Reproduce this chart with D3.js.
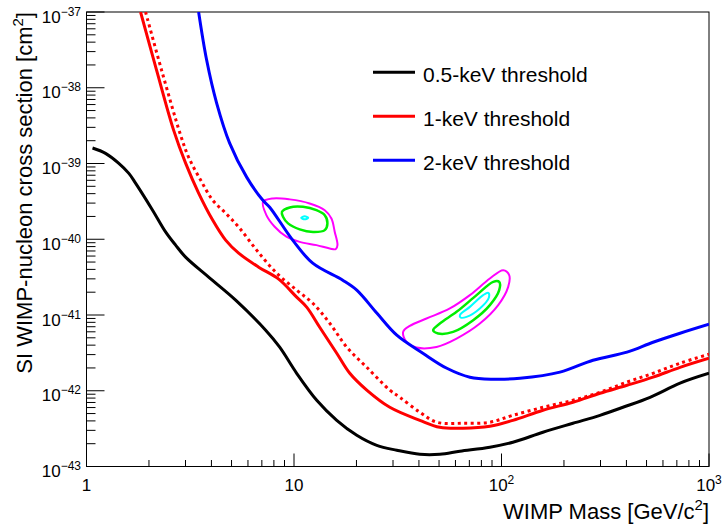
<!DOCTYPE html>
<html><head><meta charset="utf-8">
<script src="https://cdn.jsdelivr.net/npm/d3@7"></script>
<style>body{margin:0;background:#fff}svg{display:block;font-family:"Liberation Sans",Arial,sans-serif}</style>
</head><body>
<svg id="c" width="722" height="524"></svg>
<script>
// ---- data ----
const massTicks = [1, 10, 100, 1000];
const massTickExp = ["", "", "2", "3"];
const sigmaTicks = [1e-43, 1e-42, 1e-41, 1e-40, 1e-39, 1e-38, 1e-37];
const sigmaTickExp = ["43", "42", "41", "40", "39", "38", "37"];

const thr05 = [[1.069,1.60e-39],[1.235,1.36e-39],[1.427,1.01e-39],[1.600,7.40e-40],[1.723,5.51e-40],[2.082,2.42e-40],[2.405,1.25e-40],[2.688,8.36e-41],[3.003,5.80e-41],[3.878,3.16e-41],[5.234,1.57e-41],[7.303,6.3e-42],[8.532,3.76e-42],[10.30,1.70e-42],[12.87,7.48e-43],[16.07,4.07e-43],[20.07,2.58e-43],[25.06,1.90e-43],[31.29,1.64e-43],[40.41,1.45e-43],[50.44,1.45e-43],[63.02,1.59e-43],[87.90,1.80e-43],[113.5,2.09e-43],[158.4,2.83e-43],[221.0,3.72e-43],[298.3,4.74e-43],[385.1,6.05e-43],[520.0,8.2e-43],[725.3,1.26e-42],[1000,1.70e-42]];
const thr1 = [[1.822,1e-37],[2.176,1.71e-38],[2.629,2.76e-39],[3.003,1.01e-39],[3.470,4.06e-40],[4.054,1.79e-40],[4.683,9.73e-41],[5.411,6.55e-41],[6.756,4.28e-41],[8.438,2.97e-41],[10.30,1.72e-41],[11.51,1.27e-41],[13.30,6.90e-42],[16.07,3.13e-42],[18.57,1.70e-42],[22.42,1.02e-42],[28.95,6.05e-43],[40.41,4.07e-43],[50.44,3.29e-43],[65.14,3.20e-43],[87.90,3.40e-43],[113.5,4.07e-43],[158.4,5.53e-43],[221.0,7.05e-43],[298.3,9.27e-43],[402.6,1.18e-42],[537.6,1.51e-42],[725.3,2.04e-42],[1000,2.69e-42]];
const thr1dot = [[1.926,1e-37],[2.300,1.71e-38],[2.841,2.37e-39],[3.105,1.21e-39],[3.548,6.04e-40],[4.054,3.29e-40],[4.683,2.21e-40],[5.411,1.45e-40],[6.608,7.18e-41],[8.253,3.56e-41],[10.30,2.13e-41],[12.31,1.43e-41],[14.87,7.79e-42],[17.96,3.76e-42],[22.42,2.04e-42],[28.95,1.02e-42],[32.35,8.2e-43],[40.41,5.20e-43],[48.80,3.84e-43],[65.14,3.72e-43],[87.90,3.84e-43],[113.5,4.74e-43],[158.4,6.05e-43],[221.0,7.48e-43],[298.3,9.55e-43],[402.6,1.30e-42],[537.6,1.70e-42],[725.3,2.31e-42],[1000,3.03e-42]];
const thr2 = [[3.470,1e-37],[3.793,2.32e-38],[4.238,6.28e-39],[4.896,1.86e-39],[5.913,6.61e-40],[7.063,3.29e-40],[7.634,2.65e-40],[9.856,9.73e-41],[12.31,4.83e-41],[17.18,2.88e-41],[20.07,2.13e-41],[25.06,1.06e-41],[31.29,5.41e-42],[41.78,3.13e-42],[54.53,1.98e-42],[70.41,1.51e-42],[90.88,1.42e-42],[122.7,1.46e-42],[191.3,1.76e-42],[276.0,2.53e-42],[402.6,3.23e-42],[537.6,4.37e-42],[725.3,5.75e-42],[1000,7.56e-42]];

const magentaLow = [[7.09,3.12e-40],[7.92,3.46e-40],[9.54,3.36e-40],[11.9,2.97e-40],[14.07,2.42e-40],[15.15,1.88e-40],[15.72,1.25e-40],[16.2,8.36e-41],[15.89,7.40e-41],[14.87,7.56e-41],[12.83,8.36e-41],[10.65,9.24e-41],[9.19,1.08e-40],[8.07,1.46e-40],[7.36,2.08e-40]];
const greenLow = [[8.75,2.30e-40],[9.54,2.63e-40],[11.05,2.68e-40],[12.83,2.42e-40],[14.07,2.08e-40],[14.49,1.62e-40],[14.07,1.32e-40],[12.35,1.25e-40],[10.65,1.35e-40],[9.36,1.62e-40],[8.85,1.98e-40]];
const cyanLow = [[10.83,1.92e-40],[11.26,2.01e-40],[11.71,1.92e-40],[11.26,1.83e-40]];
const magentaHigh = [[33.56,5.98e-42],[36.15,7.18e-42],[43.52,8.99e-42],[56.38,1.22e-41],[70.41,1.83e-41],[87.9,3.03e-41],[101.9,3.91e-41],[108.9,3.36e-41],[107.7,2.35e-41],[96.4,1.35e-41],[78.66,7.72e-42],[60.74,4.89e-42],[48.63,3.79e-42],[38.94,3.72e-42],[34.85,4.41e-42]];
const greenHigh = [[46.83,6.3e-42],[50.44,7.72e-42],[60.74,1.10e-41],[75.84,1.83e-41],[91.2,2.74e-41],[97.48,2.74e-41],[97.48,2.13e-41],[87.9,1.35e-41],[73.04,8.54e-42],[58.48,5.98e-42],[49.51,5.70e-42]];
const cyanHigh = [[63.02,9.94e-42],[70.41,1.28e-41],[81.6,1.83e-41],[86.3,1.96e-41],[86.97,1.70e-41],[78.66,1.22e-41],[67.86,9.44e-42],[63.5,9.27e-42]];

const legendLabels = ["0.5-keV threshold", "1-keV threshold", "2-keV threshold"];
const legendColors = ["#000000", "#ff0000", "#0000ff"];

// ---- drawing ----
const svg = d3.select("#c");
const L = 86.5, R = 709, T = 12, B = 466.5;
const x = d3.scaleLog().domain([1, 1000]).range([L, R]);
const y = d3.scaleLog().domain([1e-43, 1e-37]).range([B, T]);

svg.append("defs").append("clipPath").attr("id", "clip")
  .append("rect").attr("x", L).attr("y", T).attr("width", R - L).attr("height", B - T);

// frame
svg.append("rect").attr("x", L).attr("y", T).attr("width", R - L).attr("height", B - T)
  .attr("fill", "none").attr("stroke", "#000").attr("stroke-width", 1);

// y ticks (inward)
const yMinor = [];
for (let e = -43; e < -37; e++) for (let m = 2; m <= 9; m++) yMinor.push(m * Math.pow(10, e));
svg.append("g").selectAll("line").data(yMinor).join("line")
  .attr("x1", L).attr("x2", L + 9).attr("y1", d => y(d)).attr("y2", d => y(d))
  .attr("stroke", "#000").attr("stroke-width", 1);
svg.append("g").selectAll("line").data(sigmaTicks).join("line")
  .attr("x1", L).attr("x2", L + 18).attr("y1", d => y(d)).attr("y2", d => y(d))
  .attr("stroke", "#000").attr("stroke-width", 1);

// x ticks (inward)
const xMinor = [];
for (let e = 0; e < 3; e++) for (let m = 2; m <= 9; m++) xMinor.push(m * Math.pow(10, e));
svg.append("g").selectAll("line").data(xMinor).join("line")
  .attr("x1", d => x(d)).attr("x2", d => x(d)).attr("y1", B).attr("y2", B - 6.5)
  .attr("stroke", "#000").attr("stroke-width", 1);
svg.append("g").selectAll("line").data(massTicks).join("line")
  .attr("x1", d => x(d)).attr("x2", d => x(d)).attr("y1", B).attr("y2", B - 13)
  .attr("stroke", "#000").attr("stroke-width", 1);

// y tick labels
const yl = svg.append("g").selectAll("text").data(sigmaTicks).join("text")
  .attr("x", 81).attr("y", d => y(d) + 10.5).attr("text-anchor", "end")
  .attr("font-size", 17).attr("fill", "#000");
yl.append("tspan").text("10");
yl.append("tspan").attr("font-size", 12).attr("dy", -7).text((d, i) => "\u2212" + sigmaTickExp[i]);

// x tick labels
const xl = svg.append("g").selectAll("text").data(massTicks).join("text")
  .attr("x", d => x(d)).attr("y", 490.5).attr("text-anchor", "middle")
  .attr("font-size", 17).attr("fill", "#000");
xl.append("tspan").text(d => d === 1 ? "1" : "10");
xl.filter((d, i) => massTickExp[i] !== "").append("tspan").attr("font-size", 12).attr("dy", -7)
  .text(d => massTickExp[massTicks.indexOf(d)]);

// axis titles
const xt = svg.append("text").attr("x", R).attr("y", 519).attr("text-anchor", "end")
  .attr("font-size", 22).attr("fill", "#000");
xt.append("tspan").text("WIMP Mass [GeV/c");
xt.append("tspan").attr("font-size", 15).attr("dy", -9).text("2");
xt.append("tspan").attr("dy", 9).text("]");

const yt = svg.append("text").attr("transform", `translate(32,${T}) rotate(-90)`)
  .attr("text-anchor", "end").attr("font-size", 22).attr("fill", "#000");
yt.append("tspan").text("SI WIMP-nucleon cross section [cm");
yt.append("tspan").attr("font-size", 15).attr("dy", -9).text("2");
yt.append("tspan").attr("dy", 9).text("]");

// curves
const g = svg.append("g").attr("clip-path", "url(#clip)");
const line = d3.line().x(d => x(d[0])).y(d => y(d[1])).curve(d3.curveCatmullRom.alpha(0.5));
const closed = d3.line().x(d => x(d[0])).y(d => y(d[1])).curve(d3.curveCatmullRomClosed.alpha(0.5));

const contours = [
  [magentaLow, "#ff00ff", 2], [greenLow, "#00ee00", 2.5], [cyanLow, "#00ffff", 2],
  [magentaHigh, "#ff00ff", 2], [greenHigh, "#00ee00", 2.5], [cyanHigh, "#00ffff", 2]
];
contours.forEach(([d, c, w]) => g.append("path").attr("d", closed(d))
  .attr("fill", "none").attr("stroke", c).attr("stroke-width", w));

g.append("path").attr("d", line(thr05)).attr("fill", "none").attr("stroke", "#000").attr("stroke-width", 3);
g.append("path").attr("d", line(thr1dot)).attr("fill", "none").attr("stroke", "#ff0000").attr("stroke-width", 3).attr("stroke-dasharray", "3,3.5");
g.append("path").attr("d", line(thr1)).attr("fill", "none").attr("stroke", "#ff0000").attr("stroke-width", 3);
g.append("path").attr("d", line(thr2)).attr("fill", "none").attr("stroke", "#0000ff").attr("stroke-width", 3);

// legend
const lg = svg.append("g").selectAll("g").data(legendLabels).join("g")
  .attr("transform", (d, i) => `translate(0,${72.3 + i * 44})`);
lg.append("line").attr("x1", 373).attr("x2", 415).attr("y1", 0).attr("y2", 0)
  .attr("stroke", (d, i) => legendColors[i]).attr("stroke-width", 3);
lg.append("text").attr("x", 423).attr("y", 10).attr("font-size", 21).attr("fill", "#000").text(d => d);
</script>
</body></html>
